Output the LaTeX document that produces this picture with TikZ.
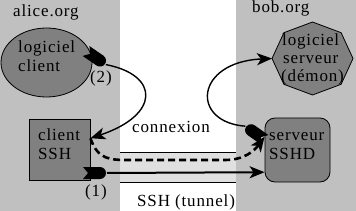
\documentclass[tikz,border=0pt]{standalone}
\usepackage{fontspec}
\setmainfont{Liberation Serif}[LetterSpace=5]
\newfontfamily\figfont{Liberation Serif}[LetterSpace=5]
\usetikzlibrary{arrows.meta,shapes.geometric}
\definecolor{panel}{HTML}{C0C0C0}
\definecolor{shapegray}{HTML}{808080}
\definecolor{bandgray}{HTML}{E0E0E0}
\tikzset{
  txt/.style={anchor=base west, inner sep=0pt, font=\figfont\fontsize{17}{19}\selectfont},
  shp/.style={draw=black, line width=0.8pt, fill=shapegray, inner sep=0pt},
  tipstyle/.style={-{Stealth[length=15pt,width=12pt,inset=4pt]}},
  conn/.style={line width=1.4pt, tipstyle},
  plug/.pic={\fill (0,6) -- (17,6) arc[start angle=90,end angle=-90,radius=6] -- (0,-6) -- (5,0) -- cycle;}
}
\begin{document}
\begin{tikzpicture}[x=1pt,y=-1pt]
\useasboundingbox (0,0) rectangle (356,211);
% backgrounds
\fill[white] (0,0) rectangle (356,211);
\fill[panel] (0,0) rectangle (120,211);
\fill[panel] (236,0) rectangle (356,211);
% tunnel band
\fill[bandgray] (120,152) rectangle (236,182);
\draw[line width=0.8pt] (120,152) -- (236,152) (120,182) -- (236,182);
% shapes
\node[shp, ellipse, minimum width=91pt, minimum height=69pt] (lc) at (46.5,62.5) {};
\node[shp, rectangle, minimum width=61pt, minimum height=61pt] (cs) at (59.5,149.5) {};
\node[shp, rectangle, rounded corners=10pt, minimum width=65pt, minimum height=64pt] (sd) at (297.5,150) {};
\draw[shp] (272,58.5) -- (283.9,32.7) -- (312.5,22) -- (341.1,32.7) -- (353,58.5)
  -- (341.1,84.3) -- (312.5,95) -- (283.9,84.3) -- cycle;
\coordinate (lsw) at (272,58.5);
% plug ends
\pic[rotate=-34.4] at (86,51) {plug};
\coordinate (p2s) at (105.8,64.6);
\pic[rotate=144.8] at (265,140) {plug};
\coordinate (p3s) at (245.4,126.2);
\pic at (83,173) {plug};
\coordinate (p1s) at (107,173);
% connectors
\draw[conn] (p2s) .. controls (160,75) and (160,115) .. (cs.20);
\draw[conn] (p3s) .. controls (190,122) and (195,62) .. (lsw);
\draw[conn, line width=2.6pt, dash pattern=on 7pt off 4pt]
  (cs.20) .. controls (98,160) and (110,160) .. (130,160) -- (225,160)
  .. controls (245,160) and (255,150) .. (sd.158);
\draw[conn, line width=2pt] (p1s) -- (sd.214);
% texts
\node[txt] (talice) at (13,17) {alice.org};
\node[txt] (tbob) at (252,13) {bob.org};
\node[txt] (tlc1) at (18,53) {logiciel};
\node[txt] (tlc2) at (18,72) {client};
\node[txt] (tcs1) at (38,141) {client};
\node[txt] (tcs2) at (38,159) {SSH};
\node[txt] (tls1) at (282,46) {logiciel};
\node[txt] (tls2) at (283,64) {serveur};
\node[txt] (tls3) at (281,82) {(démon)};
\node[txt] (tsd1) at (269,140) {serveur};
\node[txt] (tsd2) at (269,160) {SSHD};
\node[txt] (tn2) at (90,83) {(2)};
\node[txt] (tn1) at (85,196) {(1)};
\node[txt] (tconn) at (132,132) {connexion};
\node[txt] (ttun) at (137,206) {SSH (tunnel)};
\end{tikzpicture}
\end{document}
